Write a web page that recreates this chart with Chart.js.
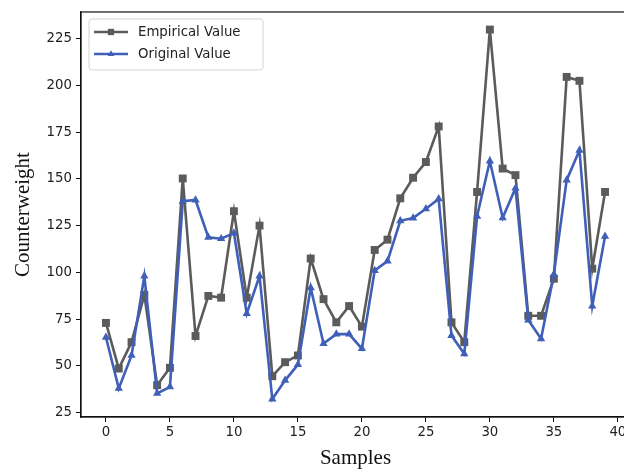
<!DOCTYPE html>
<html>
<head>
<meta charset="utf-8">
<script src="https://cdn.jsdelivr.net/npm/chart.js@4/dist/chart.umd.min.js"></script>
<style>
  html, body { margin: 0; padding: 0; background: #fff; overflow: hidden; }
  #wrap { width: 640px; height: 473px; }
</style>
</head>
<body>
<div id="wrap"><canvas id="weightChart" width="640" height="473"></canvas></div>
<script>
// sample index 0..39
var samples = [];
for (var i = 0; i < 40; i++) samples.push(i);

var empirical = [73, 48.6, 62.7, 88, 39.7, 49, 150.2, 66, 87.4, 86.5,
    132.7, 86.5, 125, 44.5, 52, 55.6, 107.4, 85.7, 73.3, 82,
    71, 112, 117.5, 139.6, 150.6, 159, 178, 73.3, 62.7, 143,
    229.8, 155.5, 152, 76.8, 76.8, 96.6, 204.5, 202.4, 102, 143];

var original = [65.3, 38, 55.6, 98, 35.3, 38.8, 138, 138.7, 118.7, 118,
    121, 78, 98, 32.3, 42.3, 50.7, 91.8, 62, 67, 67,
    59.2, 101, 106, 127.6, 129, 134, 139.3, 66.2, 56.5, 130,
    159.5, 129.2, 145, 74.5, 64.5, 99, 149.3, 165.3, 82, 119.3];

var xTicks = [0, 5, 10, 15, 20, 25, 30, 35, 40];
var yTicks = [25, 50, 75, 100, 125, 150, 175, 200, 225];

var tickFont = { family: 'DejaVu Sans', size: 13.3 };
var titleFont = { family: 'Liberation Serif', size: 21, lineHeight: 1.2 };

function pairs(ys) {
    return samples.map(function (x, i) { return { x: x, y: ys[i] }; });
}

// frame around the plot area (top/right spines)
var frame = {
    id: 'frame',
    afterDraw: function (chart) {
        var a = chart.chartArea, c = chart.ctx;
        c.save();
        c.strokeStyle = '#111';
        c.lineWidth = 1.2;
        c.strokeRect(a.left, a.top, a.right - a.left, a.bottom - a.top);
        c.restore();
    }
};

// legend box drawn inside the axes, upper left
var innerLegend = {
    id: 'innerLegend',
    afterDatasetsDraw: function (chart) {
        var a = chart.chartArea, c = chart.ctx;
        var x0 = a.left + 8, y0 = a.top + 7, w = 174, h = 51;
        c.save();
        c.beginPath();
        c.roundRect(x0, y0, w, h, 3);
        c.fillStyle = 'rgba(255,255,255,0.8)';
        c.fill();
        c.strokeStyle = '#d4d4d4';
        c.lineWidth = 1;
        c.stroke();
        chart.data.datasets.forEach(function (ds, i) {
            var y = y0 + 13 + i * 22;
            c.strokeStyle = ds.borderColor;
            c.lineWidth = ds.borderWidth;
            c.beginPath();
            c.moveTo(x0 + 5, y);
            c.lineTo(x0 + 39, y);
            c.stroke();
            c.fillStyle = ds.borderColor;
            Chart.helpers.drawPoint(c, {
                pointStyle: ds.pointStyle,
                radius: ds.pointRadius * 0.8,
                borderWidth: 0
            }, x0 + 22, y);
            c.fillStyle = '#222';
            c.font = tickFont.size + 'px ' + tickFont.family;
            c.textBaseline = 'middle';
            c.fillText(ds.label, x0 + 49, y + 0.5);
        });
        c.restore();
    }
};

new Chart(document.getElementById('weightChart').getContext('2d'), {
    type: 'line',
    data: {
        datasets: [{
            label: 'Empirical Value',
            data: pairs(empirical),
            borderColor: '#5b5b5b',
            backgroundColor: '#5b5b5b',
            borderWidth: 2.6,
            pointStyle: 'rect',
            pointRadius: 5.6,
            pointBorderWidth: 0,
            order: 2
        }, {
            label: 'Original Value',
            data: pairs(original),
            borderColor: '#3f5fb8',
            backgroundColor: '#3f5fb8',
            borderWidth: 2.6,
            pointStyle: 'triangle',
            pointRadius: 4.8,
            pointBorderWidth: 0,
            order: 1
        }]
    },
    options: {
        responsive: false,
        animation: false,
        layout: { padding: { top: 9, right: 10, left: 0, bottom: 0 } },
        plugins: {
            legend: { display: false },
            tooltip: { enabled: false }
        },
        elements: { line: { tension: 0 } },
        scales: {
            x: {
                type: 'linear',
                min: -1.95,
                max: 40.95,
                afterBuildTicks: function (s) { s.ticks = xTicks.map(function (v) { return { value: v }; }); },
                afterFit: function (s) { s.height = 56; },
                grid: { display: true, drawOnChartArea: false, color: '#111', tickLength: 5, tickWidth: 1 },
                border: { display: true, color: '#111', width: 1.2 },
                ticks: { font: tickFont, color: '#222', padding: 3, maxRotation: 0, autoSkip: false },
                title: { display: true, text: 'Samples', font: titleFont, color: '#111', padding: { top: 0, bottom: 1.5 } }
            },
            y: {
                min: 22.7,
                max: 239.2,
                afterBuildTicks: function (s) { s.ticks = yTicks.map(function (v) { return { value: v }; }); },
                afterFit: function (s) { s.width = 81; },
                grid: { display: true, drawOnChartArea: false, color: '#111', tickLength: 5, tickWidth: 1 },
                border: { display: true, color: '#111', width: 1.2 },
                ticks: { font: tickFont, color: '#222', padding: 4 },
                title: { display: true, text: 'Counterweight', font: titleFont, color: '#111', padding: { top: 10.5, bottom: 0 } }
            }
        }
    },
    plugins: [innerLegend, frame]
});
</script>
</body>
</html>
